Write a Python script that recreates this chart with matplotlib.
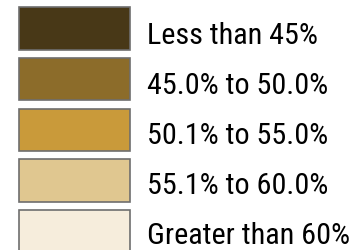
import matplotlib

matplotlib.use("Agg", force=True)
import matplotlib.pyplot as plt
from matplotlib.patches import Rectangle

labels = ["Less than 45%", "45.0% to 50.0%", "50.1% to 55.0%", "55.1% to 60.0%", "Greater than 60%"]
colors = ["#483817", "#8c6c2a", "#c99a3a", "#e0c790", "#f6eddc"]

fig = plt.figure(figsize=(3.58, 2.5), dpi=100)
ax = fig.add_axes([0, 0, 1, 1])
ax.set_xlim(0, 358)
ax.set_ylim(250, 0)
ax.axis("off")

for i, (lab, col) in enumerate(zip(labels, colors)):
    top = 7 + i * 50.8
    ax.add_patch(Rectangle((19, top), 111, 42.5, facecolor=col, edgecolor="#6e6e6e", lw=1.2))
    ax.text(147, 44 + i * 50, lab, fontsize=21.7,
            family=["Arial Narrow", "Liberation Sans Narrow", "Roboto Condensed", "Archivo Narrow", "Liberation Sans"],
            va="baseline", ha="left", color="black")

fig.savefig("out.png", dpi=100)
